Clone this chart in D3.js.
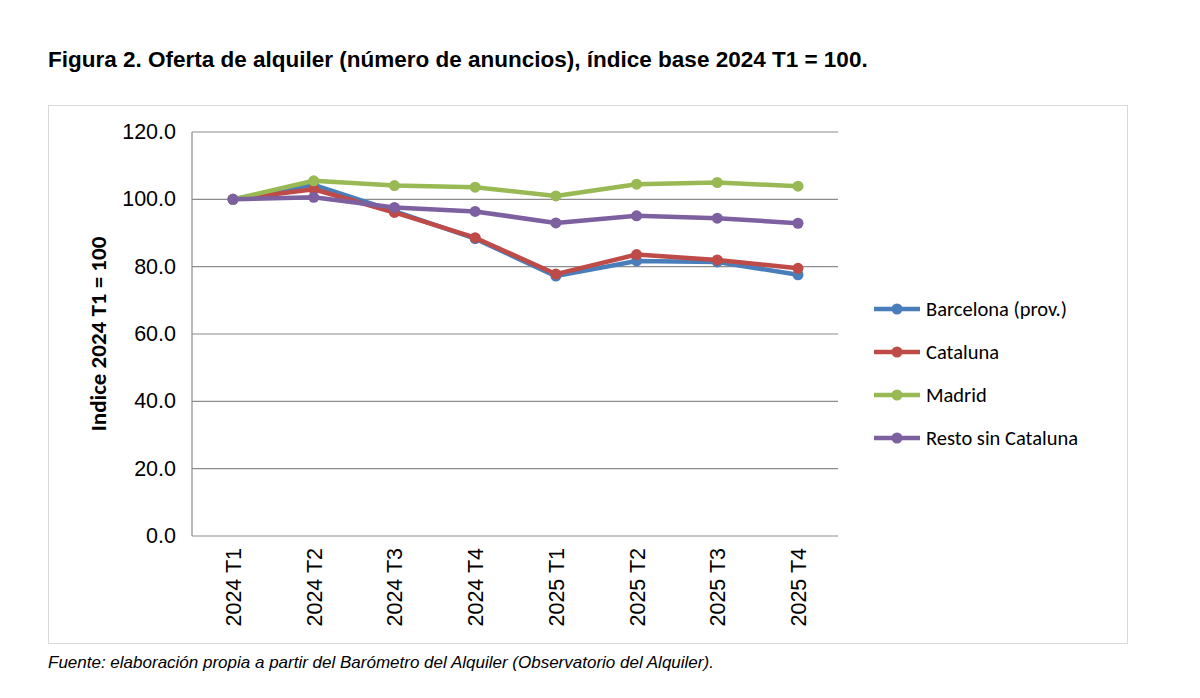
<!DOCTYPE html>
<html><head><meta charset="utf-8">
<script src="https://cdn.jsdelivr.net/npm/d3@7"></script>
<style>body{margin:0;background:#fff}</style>
</head><body>
<svg id="c" width="1200" height="698"></svg>
<script>
const quarters = ["2024 T1","2024 T2","2024 T3","2024 T4","2025 T1","2025 T2","2025 T3","2025 T4"];
const barcelona = [100, 104.3, 96.5, 88.3, 77.2, 81.7, 81.4, 77.6];
const cataluna = [100, 103.0, 96.1, 88.6, 77.8, 83.6, 82.0, 79.5];
const madrid = [100, 105.5, 104.1, 103.6, 101.0, 104.5, 105.0, 103.9];
const resto = [100, 100.6, 97.6, 96.4, 93.0, 95.1, 94.4, 92.9];
const yTicks = [0, 20, 40, 60, 80, 100, 120];

const series = [
  {name: "Barcelona (prov.)", values: barcelona, color: "#4a7ebb"},
  {name: "Cataluna", values: cataluna, color: "#be4b48"},
  {name: "Madrid", values: madrid, color: "#98b954"},
  {name: "Resto sin Cataluna", values: resto, color: "#7d60a0"}
];

const svg = d3.select("#c");
svg.append("text").attr("x", 48).attr("y", 67)
  .attr("font-family", "Liberation Sans, Arial").attr("font-weight", "bold").attr("font-size", 22.5)
  .text("Figura 2. Oferta de alquiler (número de anuncios), índice base 2024 T1 = 100.");

svg.append("rect").attr("x", 48.5).attr("y", 105.5).attr("width", 1079).attr("height", 538)
  .attr("fill", "none").attr("stroke", "#d9d9d9");

const x = d3.scalePoint().domain(quarters).range([233, 798]).padding(0);
const y = d3.scaleLinear().domain([0, 120]).range([536, 132]);

const g = svg.append("g");
g.selectAll("line.grid").data(yTicks).join("line")
  .attr("x1", 192).attr("x2", 838).attr("y1", d => y(d)).attr("y2", d => y(d))
  .attr("stroke", "#8c8c8c").attr("stroke-width", 1.2);
g.append("line").attr("x1", 192).attr("x2", 192).attr("y1", y(120)).attr("y2", 536).attr("stroke", "#8c8c8c").attr("stroke-width", 1.2);

g.selectAll("text.yt").data(yTicks).join("text")
  .attr("x", 176).attr("y", d => y(d) + 7).attr("text-anchor", "end")
  .attr("font-family", "Liberation Sans, Arial").attr("font-size", 21.5)
  .text(d => d.toFixed(1));

g.selectAll("text.xt").data(quarters).join("text")
  .attr("transform", d => `translate(${x(d) + 8},548) rotate(-90)`)
  .attr("text-anchor", "end")
  .attr("font-family", "Liberation Sans, Arial").attr("font-size", 21.5)
  .text(d => d);

svg.append("text").attr("transform", "translate(106,334) rotate(-90)").attr("text-anchor", "middle")
  .attr("font-family", "Carlito, Calibri, DejaVu Sans").attr("font-weight", "bold").attr("font-size", 23)
  .text("Indice 2024 T1 = 100");

const line = d3.line().x((d, i) => x(quarters[i])).y(d => y(d));
series.forEach(s => {
  g.append("path").attr("d", line(s.values)).attr("fill", "none")
    .attr("stroke", s.color).attr("stroke-width", 4.5).attr("stroke-linejoin", "round");
  g.selectAll(null).data(s.values).join("circle")
    .attr("cx", (d, i) => x(quarters[i])).attr("cy", d => y(d)).attr("r", 5.5).attr("fill", s.color);
});

const lg = svg.append("g");
series.forEach((s, i) => {
  const yy = 309 + i * 43;
  lg.append("line").attr("x1", 874).attr("x2", 920).attr("y1", yy).attr("y2", yy)
    .attr("stroke", s.color).attr("stroke-width", 4.5);
  lg.append("circle").attr("cx", 897).attr("cy", yy).attr("r", 5.5).attr("fill", s.color);
  lg.append("text").attr("x", 926).attr("y", yy + 7)
    .attr("font-family", "Carlito, Calibri, DejaVu Sans").attr("font-size", 20.5).text(s.name);
});

svg.append("text").attr("x", 48).attr("y", 668)
  .attr("font-family", "Liberation Sans, Arial").attr("font-style", "italic").attr("font-size", 17)
  .text("Fuente: elaboración propia a partir del Barómetro del Alquiler (Observatorio del Alquiler).");
</script>
</body></html>
